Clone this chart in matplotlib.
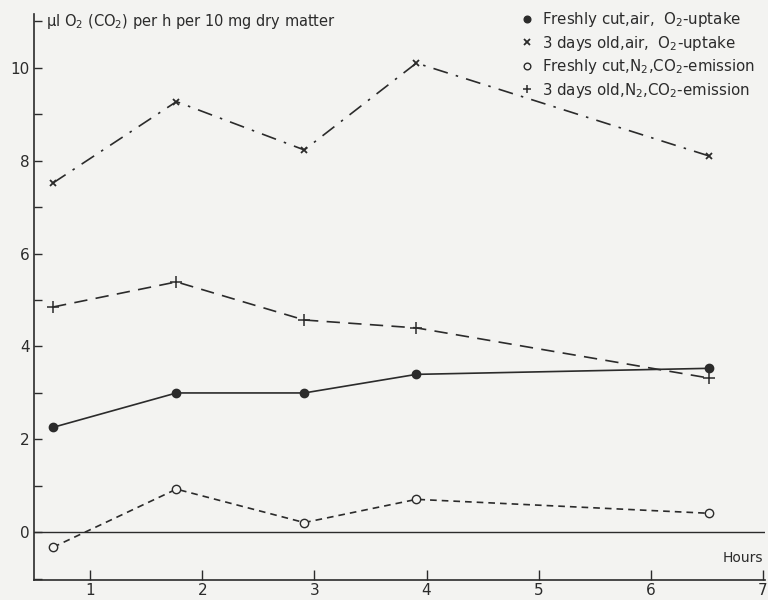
import matplotlib
matplotlib.use("Agg")
import matplotlib.pyplot as plt
from matplotlib.ticker import MultipleLocator

# hours after cutting
hours = [0.67, 1.77, 2.91, 3.91, 6.52]

# ul O2 (CO2) per h per 10 mg dry matter
fresh_air = [2.26, 3.0, 3.0, 3.40, 3.53]
old_air = [7.52, 9.27, 8.23, 10.1, 8.10]
fresh_n2 = [-0.32, 0.93, 0.21, 0.71, 0.41]
old_n2 = [4.85, 5.39, 4.57, 4.40, 3.32]

labels = [
    "Freshly cut,air,  O$_2$-uptake",
    "3 days old,air,  O$_2$-uptake",
    "Freshly cut,N$_2$,CO$_2$-emission",
    "3 days old,N$_2$,CO$_2$-emission",
]

ink = "#2b2b2b"
paper = "#f3f3f1"

plt.rcParams["font.family"] = ["DejaVu Sans"]
fig = plt.figure(figsize=(7.68, 6.0), dpi=100, facecolor=paper)
ax = fig.add_axes([0.0443, 0.033, 0.952, 0.944], facecolor=paper)

ax.plot(hours, fresh_air, color=ink, lw=1.2, ls="-", marker="o", ms=6,
        mfc=ink, mec=ink, label=labels[0])
ax.plot(hours, old_air, color=ink, lw=1.2, ls=(0, (9, 5, 1.5, 5)), marker="x", ms=5,
        mew=1.3, label=labels[1])
ax.plot(hours, fresh_n2, color=ink, lw=1.2, ls=(0, (4, 3)), marker="o", ms=6,
        mfc=paper, mec=ink, mew=1.0, label=labels[2])
ax.plot(hours, old_n2, color=ink, lw=1.2, ls=(0, (8, 5)), marker="+", ms=8,
        mew=1.1, label=labels[3])

ax.axhline(0, color=ink, lw=1.0)

ax.set_xlim(0.5, 7.02)
ax.set_ylim(-1.03, 11.16)
ax.yaxis.set_minor_locator(MultipleLocator(1))
ax.set_yticks([0, 2, 4, 6, 8, 10])
ax.set_xticks([1, 2, 3, 4, 5, 6, 7])

for side in ["top", "right"]:
    ax.spines[side].set_visible(False)
for side in ["left", "bottom"]:
    ax.spines[side].set_color(ink)
    ax.spines[side].set_linewidth(1.2)

ax.tick_params(axis="both", which="both", direction="in", colors=ink,
               labelsize=11, width=1.0)
ax.tick_params(axis="y", which="major", length=6, pad=3)
ax.tick_params(axis="y", which="minor", length=6)
ax.tick_params(axis="x", which="major", length=7, pad=2)

ax.text(0.016, 1.003, "\u03bcl O$_2$ (CO$_2$) per h per 10 mg dry matter",
        transform=ax.transAxes, fontsize=10.5, color=ink, ha="left", va="top")
ax.text(7.0, -0.55, "Hours", fontsize=10, color=ink, ha="right", va="center")

ax.legend(loc="upper right", bbox_to_anchor=(1.0, 1.025), frameon=False,
          fontsize=10.8, labelcolor=ink, handlelength=0.8, handletextpad=0.6,
          labelspacing=0.3, borderpad=0.2, markerscale=0.8)
# markers only in legend
for h in ax.get_legend().legend_handles:
    h.set_linestyle("none")

fig.savefig("out.png", dpi=100, facecolor=paper)
